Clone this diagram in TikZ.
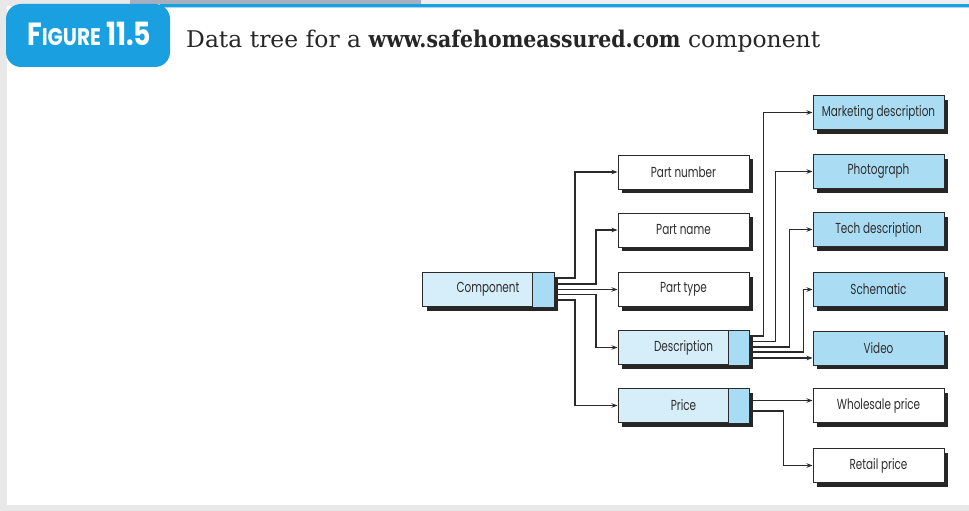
\documentclass[tikz,border=0pt]{standalone}
\usepackage{fontspec}
\setmainfont{Poppins}
\newfontfamily\boxfont[FakeStretch=0.72]{Poppins}
\newfontfamily\titlefont[FakeStretch=1.02]{DejaVu Serif}
\newfontfamily\titlebold[FakeStretch=0.89]{DejaVu Serif}
\newfontfamily\badgefont[FakeStretch=0.835]{Poppins}
\usetikzlibrary{arrows.meta,calc,shadows}
\definecolor{figblue}{HTML}{1AA0E0}
\definecolor{lightblue}{HTML}{D6EEFA}
\definecolor{divblue}{HTML}{A8DCF4}
\definecolor{rightblue}{HTML}{AADDF4}
\definecolor{linec}{HTML}{2A2A2A}
\definecolor{textc}{HTML}{2E2E2E}
\definecolor{bggrey}{HTML}{E8E8E8}
\definecolor{stripgrey}{HTML}{A4B0BE}
\definecolor{lightgrey}{HTML}{EEEEEE}
\tikzset{
  box/.style={draw=linec, line width=1pt, minimum width=131pt, minimum height=34pt,
    inner sep=0pt, font=\boxfont\fontsize{14.5}{14.5}\selectfont, text=textc,
    drop shadow={shadow xshift=4pt, shadow yshift=-4pt, fill=black!85, opacity=1}},
  whitebox/.style={box, fill=white},
  bluebox/.style={box, fill=rightblue},
  splitbox/.style={box, fill=lightblue},
  divpart/.style={draw=linec, line width=1pt, fill=divblue},
  conn/.style={draw=linec, line width=1.2pt, -{Stealth[length=6pt,width=4.5pt]}},
}
\begin{document}
\begin{tikzpicture}[x=1pt,y=-1pt]
\useasboundingbox (0,0) rectangle (969,511);
% frame
\fill[bggrey] (0,0) rectangle (969,511);
\fill[white] (7,6) rectangle (969,505);
\fill[stripgrey] (130,0) rectangle (421,4);
\fill[lightgrey] (421,0) rectangle (969,4);
\fill[figblue] (160,4) rectangle (969,7);
\fill[figblue!40] (160,7) rectangle (969,8);
\fill[figblue, rounded corners=15pt] (6,4) rectangle (170,67);
\node[anchor=base west, text=white, inner sep=0pt] (badge) at (27,46)
  {\badgefont\bfseries{\fontsize{32}{32}\selectfont F}{\fontsize{24}{24}\selectfont IGURE}\hspace{5pt}{\fontsize{32}{32}\selectfont 11.5}};
\node[anchor=base west, text=black!85, inner sep=0pt] (title) at (186,48)
  {\fontsize{23}{23}\selectfont\titlefont Data tree for a {\titlebold\bfseries www.safehomeassured.com} component};
% boxes
\node[splitbox] (comp) at (488,289.5) {Component};
\draw[divpart] ($(comp.north east)+(-22,0)$) rectangle (comp.south east);
\node[whitebox] (pnum) at (683.5,172) {Part number};
\node[whitebox] (pname) at (683.5,230) {Part name};
\node[whitebox] (ptype) at (683.5,289.5) {Part type};
\node[splitbox] (desc) at (683.5,347.5) {Description};
\draw[divpart] ($(desc.north east)+(-21,0)$) rectangle (desc.south east);
\node[splitbox] (price) at (683.5,405.5) {Price};
\draw[divpart] ($(price.north east)+(-21,0)$) rectangle (price.south east);
\node[bluebox] (mkt) at (878.5,112.5) {Marketing description};
\node[bluebox] (photo) at (878.5,171.5) {Photograph};
\node[bluebox] (tech) at (878.5,229.5) {Tech description};
\node[bluebox] (schem) at (878.5,289.5) {Schematic};
\node[bluebox] (video) at (878.5,348) {Video};
\node[whitebox] (whole) at (878.5,405.5) {Wholesale price};
\node[whitebox] (retail) at (878.5,465.5) {Retail price};
% connectors from Component
\draw[conn] ($(comp.east)+(0,-11.5)$) -- ++(21,0) |- (pnum.west);
\draw[conn] ($(comp.east)+(0,-5.5)$) -- ++(42,0) |- (pname.west);
\draw[conn] (comp.east) -- (ptype.west);
\draw[conn] ($(comp.east)+(0,5)$) -- ++(42,0) |- (desc.west);
\draw[conn] ($(comp.east)+(0,10.5)$) -- ++(21,0) |- (price.west);
% connectors from Description
\draw[conn] ($(desc.east)+(0,-11.5)$) -- ++(14,0) |- (mkt.west);
\draw[conn] ($(desc.east)+(0,-6)$) -- ++(26,0) |- (photo.west);
\draw[conn] ($(desc.east)+(0,-0.5)$) -- ++(40,0) |- (tech.west);
\draw[conn] ($(desc.east)+(0,4.5)$) -- ++(54,0) |- (schem.west);
\draw[conn] ($(desc.east)+(0,10.5)$) coordinate (dv) -- (dv -| video.west);
% connectors from Price
\draw[conn] ($(price.east)+(0,-5)$) coordinate (pw) -- (pw -| whole.west);
\draw[conn] ($(price.east)+(0,5.5)$) -- ++(34,0) |- (retail.west);
\end{tikzpicture}
\end{document}
